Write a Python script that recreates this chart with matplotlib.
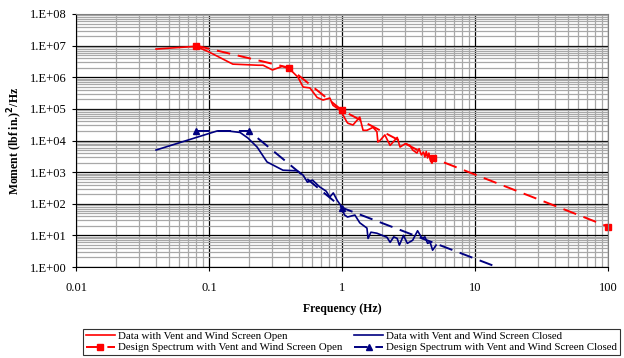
import matplotlib
matplotlib.use("Agg")
import matplotlib.pyplot as plt
import numpy as np
from matplotlib.ticker import FixedLocator, LogLocator, NullFormatter

plt.rcParams['font.family'] = ['Liberation Serif', 'DejaVu Serif']

# data with vent and wind screen open
red_f = [0.04, 0.08, 0.1, 0.151, 0.234, 0.255, 0.30, 0.355, 0.4, 0.467, 0.51, 0.574,
         0.65, 0.72, 0.81, 0.855, 0.97, 1.02, 1.09, 1.11, 1.21, 1.36, 1.44, 1.54, 1.71,
         1.83, 1.86, 1.93, 2.1, 2.3, 2.6, 2.73, 3.0, 3.24, 3.4, 3.66, 3.8, 3.95, 4.1,
         4.2, 4.3, 4.4, 4.5, 4.6, 4.75, 4.85, 5.0]
red_v = [7.8e6, 9.5e6, 6.3e6, 2.6e6, 2.4e6, 2.4e6, 1.7e6, 2.2e6, 1.9e6, 1.0e6, 4.9e5, 4.6e5,
         2.3e5, 1.9e5, 2.2e5, 1.3e5, 9e4, 6.3e4, 3.8e4, 3.5e4, 3.1e4, 5.5e4, 2.1e4, 2.1e4, 2.6e4,
         1.9e4, 9e3, 1.0e4, 1.5e4, 7e3, 1.25e4, 6.2e3, 8e3, 7e3, 5e3, 4e3, 5.5e3, 3.5e3, 4.3e3,
         3e3, 4.5e3, 2.8e3, 4e3, 2.5e3, 1.9e3, 3.2e3, 2.5e3]

# data with vent and wind screen closed
blue_f = [0.04, 0.115, 0.139, 0.171, 0.196, 0.23, 0.273, 0.36, 0.46, 0.51, 0.55, 0.6,
          0.68, 0.76, 0.81, 0.86, 0.92, 1.0, 1.04, 1.1, 1.25, 1.36, 1.54, 1.57, 1.65,
          1.83, 2.18, 2.3, 2.45, 2.6, 2.7, 2.9, 3.1, 3.4, 3.7, 4.0, 4.2, 4.4, 4.6, 4.8, 5.1]
blue_v = [5e3, 2e4, 2e4, 1.8e4, 1.2e4, 6.2e3, 2.1e3, 1.15e3, 1.1e3, 800, 480, 560,
          340, 250, 163, 220, 128, 78, 45, 38, 44, 25, 17, 8, 12.6,
          11.7, 8.7, 6, 9, 8, 4.9, 10, 5.6, 7, 14, 8, 9, 5.6, 6, 3.4, 4.9]

# design spectra
red_design_f = [0.08, 0.4, 1.0, 4.8, 100]
red_design_v = [1e7, 2e6, 9e4, 2.8e3, 19]
blue_design_f = [0.08, 0.2, 1.0, 100]
blue_design_v = [2e4, 2e4, 75, 0.045]

xticks = [0.01, 0.1, 1, 10, 100]
xtick_labels = ["0.01", "0.1", "1", "10", "100"]
yticks = [1e0, 1e1, 1e2, 1e3, 1e4, 1e5, 1e6, 1e7, 1e8]
ytick_labels = ["1.E+00", "1.E+01", "1.E+02", "1.E+03", "1.E+04",
                "1.E+05", "1.E+06", "1.E+07", "1.E+08"]

red = "#ff0000"
navy = "#000080"

fig = plt.figure(figsize=(6.24, 3.58), dpi=100)
ax = fig.add_axes([76/624, 1-267/358, (608-76)/624, (267-14)/358])

ax.plot(red_f, red_v, color=red, lw=1.2, label="Data with Vent and Wind Screen Open")
ax.plot(blue_f, blue_v, color=navy, lw=1.2, label="Data with Vent and Wind Screen Closed")
ax.plot(red_design_f, red_design_v, color=red, lw=1.4, dashes=(7, 4), marker="s", ms=5,
        clip_on=False, label="Design Spectrum with Vent and Wind Screen Open")
ax.plot(blue_design_f, blue_design_v, color=navy, lw=1.4, dashes=(7, 4), marker="^", ms=5,
        label="Design Spectrum with Vent and Wind Screen Closed")

ax.set_xscale("log")
ax.set_yscale("log")
ax.set_xlim(0.01, 100)
ax.set_ylim(1, 1e8)

ax.xaxis.set_major_locator(FixedLocator(xticks))
ax.set_xticklabels(xtick_labels)
ax.yaxis.set_major_locator(FixedLocator(yticks))
ax.set_yticklabels(ytick_labels)
ax.xaxis.set_minor_locator(LogLocator(base=10, subs=np.arange(2, 10)))
ax.yaxis.set_minor_locator(LogLocator(base=10, subs=np.arange(2, 10)))
ax.xaxis.set_minor_formatter(NullFormatter())
ax.yaxis.set_minor_formatter(NullFormatter())

ax.grid(which="minor", color="#a8a8a8", lw=0.9)
ax.grid(which="major", color="black", lw=0.9)
ax.set_axisbelow(True)
ax.tick_params(which="major", direction="out", length=3, width=0.8, labelsize=9)
ax.tick_params(which="minor", length=0)
ax.tick_params(axis="x", pad=8)

for s in ["top", "right"]:
    ax.spines[s].set_color("#808080")
for s in ["left", "bottom"]:
    ax.spines[s].set_color("black")

ax.set_xlabel("Frequency (Hz)", fontsize=8.5, fontweight="bold", labelpad=6)
ax.set_ylabel("Moment (lbf in.)$^{\\mathbf{2}}$/Hz", fontsize=8.5, fontweight="bold", labelpad=4)

handles, labels = ax.get_legend_handles_labels()
leg = fig.legend([handles[i] for i in [0, 2, 1, 3]], [labels[i] for i in [0, 2, 1, 3]],
                 loc="upper left", bbox_to_anchor=(83/624, 1-329/358), ncol=2,
                 fontsize=7.8, frameon=True, fancybox=False, edgecolor="black",
                 handlelength=2.7, handletextpad=0.25, columnspacing=1.1,
                 borderpad=0.25, labelspacing=0.15, numpoints=1, borderaxespad=0)
leg.get_frame().set_linewidth(0.8)

fig.savefig("out.png", dpi=100)
